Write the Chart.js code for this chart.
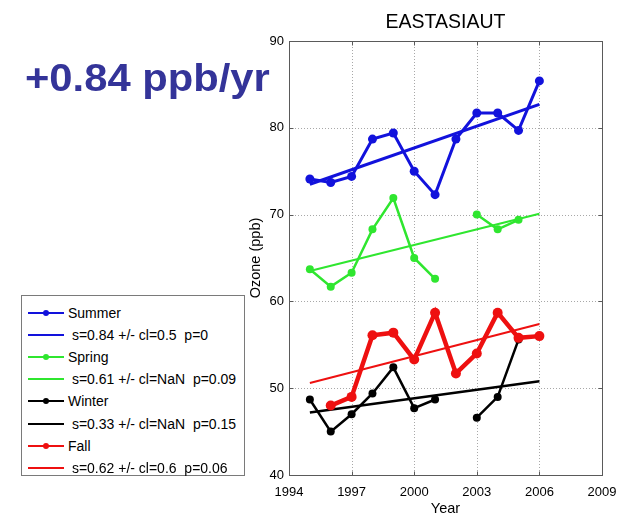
<!DOCTYPE html>
<html>
<head>
<meta charset="utf-8">
<title>EASTASIAUT</title>
<script src="https://cdn.jsdelivr.net/npm/chart.js@4.4.1/dist/chart.umd.min.js"></script>
<style>
    body { margin: 0; background: #fff; }
    #wrap { position: relative; width: 630px; height: 515px; font-family: "Liberation Sans", Arial, sans-serif; }
    #ozoneChart { position: absolute; left: 0; top: 0; }
    #rate {
        position: absolute; left: 25px; top: 56px;
        font-size: 39px; font-weight: bold; color: #343499;
        transform: scaleX(1.07); transform-origin: left top;
        white-space: pre;
    }
    #legend {
        position: absolute; left: 21px; top: 295px; width: 224px; height: 181px;
        border: 1px solid #7a7a7a; background: #fff; box-sizing: border-box;
    }
    .row { position: absolute; left: 0; height: 22px; width: 100%; }
    .swatch { position: absolute; left: 6px; top: 10px; width: 36px; height: 2px; }
    .dot { position: absolute; left: 15px; top: -2px; width: 6px; height: 6px; border-radius: 50%; }
    .label { position: absolute; left: 46px; top: 0; line-height: 22px; font-size: 14px; white-space: pre; color: #000; }
</style>
</head>
<body>
<div id="wrap">
    <canvas id="ozoneChart" width="630" height="515"></canvas>
    <div id="rate">+0.84 ppb/yr</div>
    <div id="legend"></div>
</div>
<script>
const years = [1995, 1996, 1997, 1998, 1999, 2000, 2001, 2002, 2003, 2004, 2005, 2006];
const summer = [74.1, 73.7, 74.4, 78.7, 79.4, 75.0, 72.3, 78.7, 81.7, 81.7, 79.7, 85.4];
const spring = [63.7, 61.7, 63.3, 68.3, 71.9, 65.0, 62.6, null, 70.0, 68.3, 69.4, null];
const winter = [48.7, 45.0, 47.0, 49.4, 52.4, 47.7, 48.7, null, 46.6, 49.0, 55.6, null];
const fall = [null, 48.0, 49.0, 56.1, 56.4, 53.3, 58.7, 51.7, 54.0, 58.7, 55.8, 56.0];

// fitted trend lines, start and end value
const trendYears = [1995, 2006];
const summerTrend = [73.5, 82.7];
const springTrend = [63.5, 70.1];
const winterTrend = [47.2, 50.8];
const fallTrend = [50.6, 57.4];

const seasonNames = ['Summer', 'Spring', 'Winter', 'Fall'];
const fitLabels = [
    ' s=0.84 +/- cl=0.5  p=0',
    ' s=0.61 +/- cl=NaN  p=0.09',
    ' s=0.33 +/- cl=NaN  p=0.15',
    ' s=0.62 +/- cl=0.6  p=0.06'
];
const seasonColors = ['#1212dc', '#2fe62f', '#000000', '#ee1010'];

const xTicks = [1994, 1997, 2000, 2003, 2006, 2009];
const yTicks = [40, 50, 60, 70, 80, 90];

const FONT = '"Liberation Sans", Arial, sans-serif';

function toPoints(xs, ys) {
    return xs.map((x, i) => ({ x: x, y: ys[i] }));
}

const seriesValues = [summer, spring, winter, fall];
const trendValues = [summerTrend, springTrend, winterTrend, fallTrend];
const lineWidths = [3, 2.5, 2.5, 4.5];
const markerSizes = [4.5, 4, 4, 5];
const trendWidths = [3, 2, 2.5, 2];

const datasets = [];
seriesValues.forEach((vals, i) => {
    datasets.push({
        label: seasonNames[i],
        data: toPoints(years, vals),
        borderColor: seasonColors[i],
        backgroundColor: seasonColors[i],
        borderWidth: lineWidths[i],
        pointRadius: markerSizes[i],
        pointBorderWidth: 0,
        pointBackgroundColor: seasonColors[i],
        spanGaps: false,
        order: 8 - i * 2
    });
    datasets.push({
        label: fitLabels[i],
        data: toPoints(trendYears, trendValues[i]),
        borderColor: seasonColors[i],
        borderWidth: trendWidths[i],
        pointRadius: 0,
        order: 7 - i * 2
    });
});

// dotted grid, box, inward ticks and text around the axes
const frame = {
    id: 'frame',
    beforeDatasetsDraw(chart) {
        const { ctx, chartArea: a, scales: { x, y } } = chart;
        ctx.save();
        ctx.strokeStyle = '#a8a8a8';
        ctx.lineWidth = 1;
        ctx.setLineDash([1, 2]);
        xTicks.slice(1, -1).forEach(v => {
            const px = Math.round(x.getPixelForValue(v)) + 0.5;
            ctx.beginPath(); ctx.moveTo(px, a.top); ctx.lineTo(px, a.bottom); ctx.stroke();
        });
        yTicks.slice(1, -1).forEach(v => {
            const py = Math.round(y.getPixelForValue(v)) + 0.5;
            ctx.beginPath(); ctx.moveTo(a.left, py); ctx.lineTo(a.right, py); ctx.stroke();
        });
        ctx.restore();
    },
    afterDraw(chart) {
        const { ctx, chartArea: a, scales: { x, y } } = chart;
        const l = Math.round(a.left) + 0.5, r = Math.round(a.right) + 0.5;
        const t = Math.round(a.top) + 0.5, b = Math.round(a.bottom) + 0.5;
        ctx.save();
        ctx.strokeStyle = '#5a5a5a';
        ctx.lineWidth = 1;
        ctx.strokeRect(l, t, r - l, b - t);
        ctx.beginPath();
        xTicks.forEach(v => {
            const px = Math.round(x.getPixelForValue(v)) + 0.5;
            ctx.moveTo(px, b); ctx.lineTo(px, b - 4);
            ctx.moveTo(px, t); ctx.lineTo(px, t + 4);
        });
        yTicks.forEach(v => {
            const py = Math.round(y.getPixelForValue(v)) + 0.5;
            ctx.moveTo(l, py); ctx.lineTo(l + 4, py);
            ctx.moveTo(r, py); ctx.lineTo(r - 4, py);
        });
        ctx.stroke();

        ctx.fillStyle = '#000';
        const cx = (a.left + a.right) / 2;
        ctx.textAlign = 'center';
        ctx.textBaseline = 'alphabetic';
        ctx.font = '19.5px ' + FONT;
        ctx.fillText('EASTASIAUT', cx, 27.5);

        ctx.font = '14.5px ' + FONT;
        ctx.fillText('Year', cx, 513);

        ctx.translate(260, (a.top + a.bottom) / 2);
        ctx.rotate(-Math.PI / 2);
        ctx.fillText('Ozone (ppb)', 0, 0);
        ctx.restore();
    }
};

new Chart(document.getElementById('ozoneChart'), {
    type: 'line',
    data: { datasets: datasets },
    options: {
        responsive: false,
        animation: false,
        devicePixelRatio: 1,
        layout: { padding: { left: 0, right: 28, top: 41, bottom: 0 } },
        plugins: {
            legend: { display: false },
            title: { display: false },
            tooltip: { enabled: false }
        },
        scales: {
            x: {
                type: 'linear',
                min: 1994,
                max: 2009,
                afterBuildTicks: scale => { scale.ticks = xTicks.map(v => ({ value: v })); },
                afterFit: scale => { scale.height = 40; },
                grid: { display: false, drawTicks: false },
                border: { display: false },
                ticks: {
                    padding: 10,
                    color: '#000',
                    maxRotation: 0,
                    autoSkip: false,
                    font: { family: FONT, size: 13 },
                    callback: v => String(v)
                }
            },
            y: {
                min: 40,
                max: 90,
                afterBuildTicks: scale => { scale.ticks = yTicks.map(v => ({ value: v })); },
                afterFit: scale => { scale.width = 289; },
                grid: { display: false, drawTicks: false },
                border: { display: false },
                ticks: {
                    padding: 5,
                    color: '#000',
                    font: { family: FONT, size: 13 }
                }
            }
        }
    },
    plugins: [frame]
});

// legend: one row per season line and one per fitted line
const legend = document.getElementById('legend');
seasonNames.forEach((name, i) => {
    [name, fitLabels[i]].forEach((text, k) => {
        const row = document.createElement('div');
        row.className = 'row';
        row.style.top = (5.5 + (i * 2 + k) * 22.2) + 'px';
        const swatch = document.createElement('div');
        swatch.className = 'swatch';
        swatch.style.background = seasonColors[i];
        if (k === 0) {
            const dot = document.createElement('div');
            dot.className = 'dot';
            dot.style.background = seasonColors[i];
            swatch.appendChild(dot);
        }
        const label = document.createElement('div');
        label.className = 'label';
        label.textContent = text;
        row.appendChild(swatch);
        row.appendChild(label);
        legend.appendChild(row);
    });
});
</script>
</body>
</html>
